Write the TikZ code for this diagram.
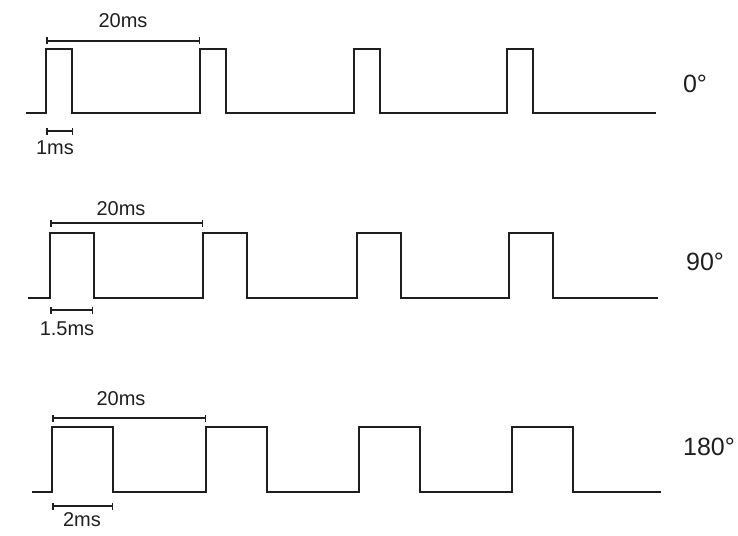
\documentclass[tikz,border=0pt]{standalone}
\usepackage{fontspec}
\setmainfont{Liberation Sans}
\usetikzlibrary{arrows.meta}
\begin{document}
\begin{tikzpicture}[x=1pt,y=-1pt,
  wave/.style={line width=1.8pt, draw=black!88, line join=miter},
  dimline/.style={line width=1.5pt, draw=black!88, {Bar[width=7pt]}-{Bar[width=7pt]}},
  small/.style={font=\fontsize{20}{20}\selectfont, text=black!88, inner sep=0pt},
  angle label/.style={font=\fontsize{25}{25}\selectfont, text=black!88, inner sep=0pt}]
\useasboundingbox (0,0) rectangle (738,535);

% 0 degrees: 1 ms pulses every 20 ms
\draw[wave] (26,113) foreach \r in {46,200,354,507} {
  -- (\r,113) -- (\r,49) -- (\r+26,49) -- (\r+26,113) } -- (656,113);
\draw[dimline] (46,41) -- (200,41);
\node[small] (p0) at (123,21) {20ms};
\draw[dimline] (46,131) -- (73,131);
\node[small] (w0) at (55,148) {1ms};
\node[angle label] (a0) at (695,84) {0°};

% 90 degrees: 1.5 ms pulses
\draw[wave] (28,298) foreach \r in {50,203,357,509} {
  -- (\r,298) -- (\r,233) -- (\r+44,233) -- (\r+44,298) } -- (658,298);
\draw[dimline] (50,223) -- (203,223);
\node[small] (p1) at (121,209) {20ms};
\draw[dimline] (50,310) -- (93,310);
\node[small] (w1) at (67,329) {1.5ms};
\node[angle label] (a1) at (705,262) {90°};

% 180 degrees: 2 ms pulses
\draw[wave] (32,492) foreach \r in {52,206,359,512} {
  -- (\r,492) -- (\r,427) -- (\r+61,427) -- (\r+61,492) } -- (661,492);
\draw[dimline] (52,418) -- (206,418);
\node[small] (p2) at (121,399) {20ms};
\draw[dimline] (52,506) -- (113,506);
\node[small] (w2) at (82,520) {2ms};
\node[angle label] (a2) at (709,447) {180°};
\end{tikzpicture}
\end{document}
